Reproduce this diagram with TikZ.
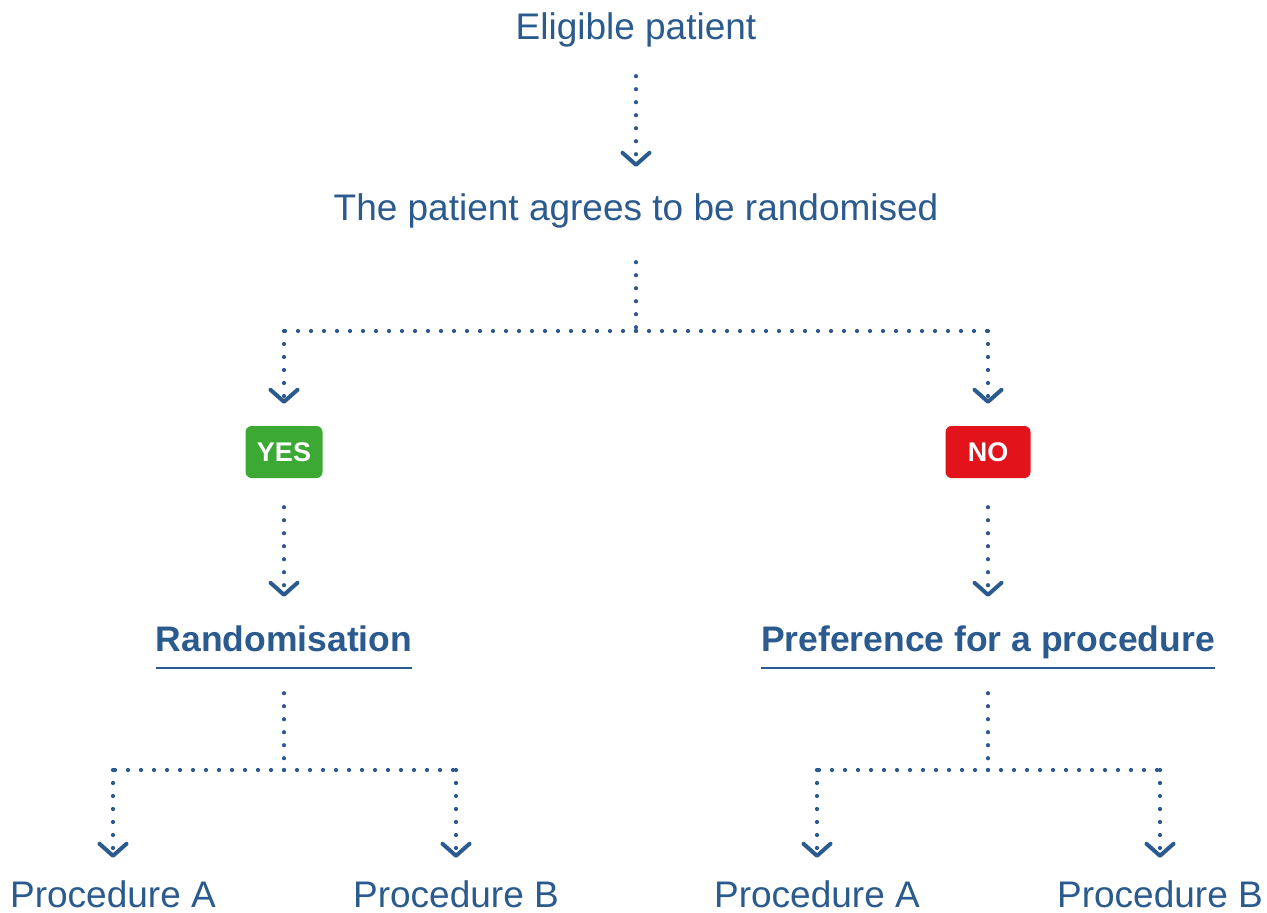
\documentclass[tikz,border=0pt]{standalone}
\usepackage{fontspec}
\setmainfont{Liberation Sans}
\usetikzlibrary{arrows.meta}
\definecolor{flowblue}{HTML}{2A5A8E}
\definecolor{yesgreen}{HTML}{3DA935}
\definecolor{nored}{HTML}{E2131B}
\tikzset{
  plain/.style={font=\fontsize{37}{42}\selectfont, text=flowblue, inner sep=0pt,
                text height=26pt, text depth=8pt, anchor=base},
  heading/.style={font=\fontsize{35.5}{40}\selectfont\bfseries, text=flowblue, inner sep=0pt,
                  text height=27pt, text depth=17pt, anchor=base},
  badge/.style={font=\fontsize{27}{30}\selectfont\bfseries, text=white, rounded corners=6pt,
                minimum height=52pt, inner xsep=0pt, anchor=center},
  dots/.style={draw=flowblue, line width=4.2pt, line cap=round, dash pattern=on 0pt off 13pt},
  chev/.style={-{Straight Barb[length=12pt, width=27pt, line width=4pt, round]}},
  uline/.style={draw=flowblue, line width=2pt}
}
\begin{document}
\begin{tikzpicture}[x=1pt, y=-1pt]
  \useasboundingbox (0,0) rectangle (1267,913);

  % question and answers
  \node[plain] (elig) at (636,39) {Eligible patient};
  \node[plain] (agree) at (636,220) {The patient agrees to be randomised};
  \node[badge, fill=yesgreen, minimum width=77pt] (yes) at (284,452) {YES};
  \node[badge, fill=nored, minimum width=85pt] (no) at (988,452) {NO};

  % the two routes
  \node[heading] (rand) at (284,651) {Randomisation};
  \node[heading] (pref) at (988,651) {Preference for a procedure};
  \draw[uline] (rand.south west) -- (rand.south east);
  \draw[uline] (pref.south west) -- (pref.south east);

  % procedures
  \node[plain] (ra) at (113,907) {Procedure A};
  \node[plain] (rb) at (456,907) {Procedure B};
  \node[plain] (pa) at (817,907) {Procedure A};
  \node[plain] (pb) at (1160,907) {Procedure B};

  % branching points
  \coordinate (s1) at (636,331);
  \coordinate (c1) at (284,331);
  \coordinate (c2) at (988,331);
  \coordinate (s2) at (284,770);
  \coordinate (c3) at (113,770);
  \coordinate (c4) at (456,770);
  \coordinate (s3) at (988,770);
  \coordinate (c5) at (817,770);
  \coordinate (c6) at (1160,770);

  % connectors
  \draw[dots, chev, shorten <=29pt, shorten >=27pt] (elig) -- (agree);

  \draw[dots, shorten <=34pt] (agree) -- (s1);
  \draw[dots] (s1) -- (c1);
  \draw[dots] (s1) -- (c2);
  \draw[dots, chev, shorten >=22pt] (c1) -- (yes);
  \draw[dots, chev, shorten >=22pt] (c2) -- (no);

  \draw[dots, chev, shorten <=29pt, shorten >=27pt] (yes) -- (rand);
  \draw[dots, chev, shorten <=29pt, shorten >=27pt] (no) -- (pref);

  \draw[dots, shorten <=25pt] (rand) -- (s2);
  \draw[dots] (s2) -- (c3);
  \draw[dots] (s2) -- (c4);
  \draw[dots, chev, shorten >=23pt] (c3) -- (ra);
  \draw[dots, chev, shorten >=23pt] (c4) -- (rb);

  \draw[dots, shorten <=25pt] (pref) -- (s3);
  \draw[dots] (s3) -- (c5);
  \draw[dots] (s3) -- (c6);
  \draw[dots, chev, shorten >=23pt] (c5) -- (pa);
  \draw[dots, chev, shorten >=23pt] (c6) -- (pb);
\end{tikzpicture}
\end{document}
